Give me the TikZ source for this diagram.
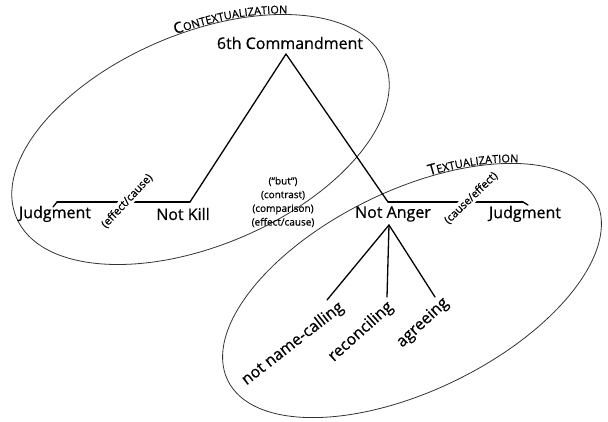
\documentclass[tikz,border=0pt]{standalone}
\usepackage{fontspec}
\setmainfont{Open Sans}[FakeBold=0.6]
\usepackage{tikz}
\usetikzlibrary{graphs}
\usetikzlibrary{decorations.text,calc}
\tikzstyle{term}=[font=\fontsize{16}{16}\selectfont, inner sep=1pt]
\tikzstyle{note}=[font=\fontsize{10}{13.7}\selectfont, inner sep=1pt]
\tikzstyle{tilted}=[font=\fontsize{11}{11}\selectfont, inner sep=1pt, fill=white]
\tikzstyle{oval}=[draw=black!80, line width=0.8pt]
\tikzset{
    arcword/.style args={#1 and #2}{
         decorate, decoration={text along path, text align=center, raise=1pt,
         text={|\fontsize{15}{15}\selectfont|#1|\fontsize{11}{11}\selectfont|#2}}
    }
}

\begin{document}
\begin{tikzpicture}[x=1pt, y=1pt, new set=import nodes]
 \useasboundingbox (0,0) rectangle (608,421);

 % the two readings
 \begin{scope}[shift={(200.5,281.5)}, rotate=23]
   \draw[oval] (0,0) ellipse [x radius=200, y radius=106];
   \path[arcword=C and ONTEXTUALIZATION] (100:200 and 106) arc [start angle=100, end angle=30, x radius=200, y radius=106];
 \end{scope}
 \begin{scope}[shift={(412,130.5)}, rotate=26]
   \draw[oval] (0,0) ellipse [x radius=205, y radius=100];
   \path[arcword=T and EXTUALIZATION] (87:205 and 100) arc [start angle=87, end angle=19, x radius=205, y radius=100];
 \end{scope}

 \begin{scope}[nodes={set=import nodes}]
      \node [term] (cmd) at (290,378) {6th Commandment};
      \node [term] (jl) at (55,207) {Judgment};
      \node [term] (nk) at (183,207) {Not Kill};
      \node [term] (na) at (393,207) {Not Anger};
      \node [term] (jr) at (525,207) {Judgment};
      \node [note, align=center] (rel) at (283,219) {(“but”)\\(contrast)\\(comparison)\\(effect/cause)};
      \node [term, rotate=38] (nnc) at (293,77) {not name-calling};
      \node [term, rotate=42] (rec) at (361,89) {reconciling};
      \node [term, rotate=43] (agr) at (423,98) {agreeing};
      % corners
      \node [coordinate] (apex) at (286,367) {};
      \node [coordinate] (nkc) at (190,219) {};
      \node [coordinate] (jlc) at (57,219) {};
      \node [coordinate] (jlt) at (53,214) {};
      \node [coordinate] (nac) at (388,219) {};
      \node [coordinate] (jrc) at (523,219) {};
      \node [coordinate] (jrt) at (528,216) {};
      \node [coordinate] (nab) at (389,196) {};
      \node [coordinate] (nnend) at (327,121) {};
      \node [coordinate] (recend) at (387,124) {};
      \node [coordinate] (agrend) at (435,124) {};
 \end{scope}

 \graph [edges={line width=1.3pt, line cap=round}] {
    (import nodes);
    jlt -- jlc -- nkc -- apex -- nac -- jrc -- jrt;
    nab -- {nnend, recend, agrend};
 };

 % labels over the lines
 \node [tilted, rotate=47] (ec) at (127,220) {(effect/cause)};
 \node [tilted, rotate=44] (ce) at (471,223) {(cause/effect)};
\end{tikzpicture}
\end{document}
